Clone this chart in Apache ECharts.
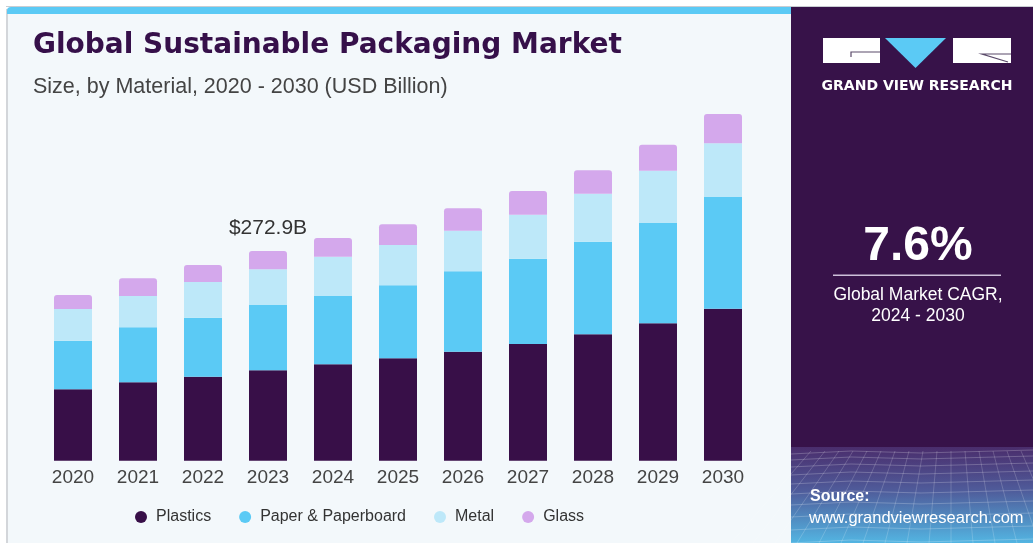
<!DOCTYPE html>
<html>
<head>
<meta charset="utf-8">
<script src="https://cdn.jsdelivr.net/npm/echarts@6/dist/echarts.min.js"></script>
<style>
html,body{margin:0;padding:0;background:#fff;}
#chart{width:1033px;height:543px;}
</style>
</head>
<body>
<div id="chart"></div>
<script>
// ---- data ----
var years = ['2020','2021','2022','2023','2024','2025','2026','2027','2028','2029','2030'];
var plastics = [92.9, 102.0, 109.3, 117.6, 125.5, 133.3, 141.9, 151.9, 164.5, 178.8, 197.8];
var paper    = [63.2, 71.6, 76.8, 85.0, 88.9, 95.0, 104.6, 111.0, 120.5, 130.5, 145.4];
var metal    = [41.3, 40.7, 46.5, 46.5, 51.1, 52.4, 52.8, 57.3, 62.5, 68.1, 69.9];
var glass    = [18.2, 23.0, 22.1, 23.8, 24.3, 26.9, 29.2, 30.8, 30.5, 33.8, 38.1];
var seriesNames = ['Plastics', 'Paper & Paperboard', 'Metal', 'Glass'];
var labelIndex = 3; // 2023
var titleText = 'Global Sustainable Packaging Market';
var subtitleText = 'Size, by Material, 2020 - 2030 (USD Billion)';
var cagrText = '7.6%';
var cagrLabel1 = 'Global Market CAGR,';
var cagrLabel2 = '2024 - 2030';

var chart = echarts.init(document.getElementById('chart'), null, {renderer:'canvas'});
var FONT = '"Liberation Sans", Arial, sans-serif';
var colors = ['#380F48', '#5BCAF5', '#BDE8F9', '#D4A8EC'];

var total = plastics[labelIndex] + paper[labelIndex] + metal[labelIndex] + glass[labelIndex];

// background decoration for bottom-right panel
var deco = [];
var gx0 = 791, gx1 = 1033, gy0 = 447, gy1 = 543;
var hY = [452, 458, 465, 473, 482, 492, 503, 515, 528, 541];
hY.forEach(function(y, i){
  deco.push({type:'polyline', z:1, silent:true,
    shape:{points:[[gx0, y + 2], [gx0 + 60, y - 1], [gx0 + 130, y + 1], [gx1, y - 2]]},
    style:{stroke:'rgba(255,255,255,0.22)', lineWidth:1, fill:null}});
});
for (var k = 0; k < 16; k++) {
  var xb = gx0 - 60 + k * 22;
  var xt = gx0 + 20 + k * 14;
  deco.push({type:'line', z:1, silent:true,
    shape:{x1:xt, y1:gy0 + 4, x2:xb, y2:gy1},
    style:{stroke:'rgba(255,255,255,0.18)', lineWidth:1}});
}

var graphics = [
  // page top line
  {type:'rect', z:0, silent:true, shape:{x:6, y:6, width:1027, height:1}, style:{fill:'#C9CDD2'}},
  // left panel
  {type:'rect', z:0, silent:true, shape:{x:6, y:7, width:785, height:536, r:[4,0,0,0]}, style:{fill:'#F3F8FB'}},
  {type:'rect', z:0, silent:true, shape:{x:6, y:9, width:2, height:534}, style:{fill:'#D3D6DA'}},
  {type:'rect', z:0, silent:true, shape:{x:7, y:7, width:784, height:7, r:[4,0,0,0]}, style:{fill:'#5BCAF5'}},
  // right panel
  {type:'rect', z:0, silent:true, shape:{x:791, y:7, width:242, height:441}, style:{fill:'#371249'}},
  {type:'rect', z:0, silent:true, shape:{x:791, y:447, width:242, height:96},
    style:{fill:new echarts.graphic.LinearGradient(0,0,0,1,[
      {offset:0, color:'#4A2D6C'}, {offset:0.45, color:'#4F5B9A'}, {offset:1, color:'#53B5E2'}])}},
  // logo
  {type:'rect', z:3, silent:true, shape:{x:823, y:38, width:57, height:25}, style:{fill:'#FFFFFF'}},
  {type:'polyline', z:4, silent:true, shape:{points:[[880,52],[851,52],[851,57]]}, style:{stroke:'#5A4A6A', lineWidth:1.2, fill:null}},
  {type:'polygon', z:3, silent:true, shape:{points:[[885,38],[946,38],[915.5,68]]}, style:{fill:'#5BCAF5'}},
  {type:'rect', z:3, silent:true, shape:{x:953, y:38, width:58, height:25}, style:{fill:'#FFFFFF'}},
  {type:'polyline', z:4, silent:true, shape:{points:[[1011,54],[982,54],[1008,62]]}, style:{stroke:'#5A4A6A', lineWidth:1.2, fill:null}},
  {type:'text', z:3, silent:true, style:{x:917, y:86, text:'GRAND VIEW RESEARCH', fill:'#FFFFFF',
    font:'bold 14px "DejaVu Sans", sans-serif', align:'center', verticalAlign:'middle'}},
  // CAGR
  {type:'text', z:3, silent:true, style:{x:918, y:247, text:cagrText, fill:'#FFFFFF',
    font:'bold 48px ' + FONT, align:'center', verticalAlign:'middle'}},
  {type:'rect', z:3, silent:true, shape:{x:833, y:274.5, width:168, height:1.5}, style:{fill:'#CDBFDA'}},
  {type:'text', z:3, silent:true, style:{x:918, y:295, text:cagrLabel1, fill:'#FFFFFF',
    font:'17.5px ' + FONT, align:'center', verticalAlign:'middle'}},
  {type:'text', z:3, silent:true, style:{x:918, y:316, text:cagrLabel2, fill:'#FFFFFF',
    font:'17.5px ' + FONT, align:'center', verticalAlign:'middle'}},
  // source
  {type:'text', z:3, silent:true, style:{x:810, y:497, text:'Source:', fill:'#FFFFFF',
    font:'bold 16px ' + FONT, align:'left', verticalAlign:'middle'}},
  {type:'text', z:3, silent:true, style:{x:809, y:518, text:'www.grandviewresearch.com', fill:'#FFFFFF',
    font:'16.5px ' + FONT, align:'left', verticalAlign:'middle'}},
  // titles
  {type:'text', z:3, silent:true, style:{x:33, y:46, text:titleText, fill:'#36104A',
    font:'bold 28px "DejaVu Sans", sans-serif', align:'left', verticalAlign:'middle'}},
  {type:'text', z:3, silent:true, style:{x:33, y:87, text:subtitleText, fill:'#444444',
    font:'21.5px ' + FONT, align:'left', verticalAlign:'middle'}}
].concat(deco);

function mk(name, data, idx, extra) {
  var s = {
    name: name, type: 'bar', stack: 'total', data: data, barWidth: 38,
    itemStyle: {color: colors[idx]},
    emphasis: {disabled: true},
    animation: false
  };
  if (extra) for (var key in extra) s[key] = extra[key];
  return s;
}

var glassData = glass.map(function(v, i){
  if (i === labelIndex) {
    return {value: v, label: {show: true, position: 'top', distance: 12,
      formatter: '$' + total.toFixed(1) + 'B',
      fontSize: 21, color: '#333333', fontFamily: FONT}};
  }
  return v;
});

var option = {
  backgroundColor: '#FFFFFF',
  animation: false,
  graphic: graphics,
  legend: {
    data: seriesNames,
    left: 130, top: 504,
    icon: 'circle', itemWidth: 12, itemHeight: 12, itemGap: 28,
    textStyle: {fontSize: 16, color: '#333333', fontFamily: FONT, padding:[0,0,0,4]},
    selectedMode: false
  },
  grid: {left: 40.5, right: 277.5, top: 107.2, bottom: 82.3, containLabel: false},
  xAxis: {
    type: 'category', data: years,
    axisLine: {show: false}, axisTick: {show: false},
    axisLabel: {fontSize: 19, color: '#444444', fontFamily: FONT, margin: 8}
  },
  yAxis: {type: 'value', min: 0, max: 460, show: false, splitLine: {show: false}},
  series: [
    mk(seriesNames[0], plastics, 0),
    mk(seriesNames[1], paper, 1),
    mk(seriesNames[2], metal, 2),
    mk(seriesNames[3], glassData, 3, {itemStyle: {color: colors[3], borderRadius: [3,3,0,0]}})
  ]
};
chart.setOption(option);
</script>
</body>
</html>
